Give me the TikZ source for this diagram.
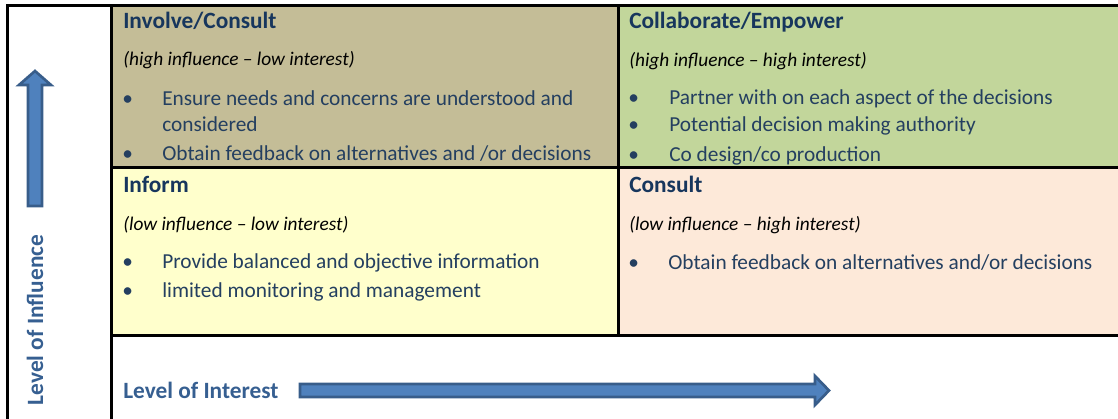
\documentclass[tikz,border=0pt]{standalone}
\usepackage{fontspec}
\setmainfont{Carlito}
\definecolor{tanc}{HTML}{C4BD97}
\definecolor{greenc}{HTML}{C2D69B}
\definecolor{yellowc}{HTML}{FFFFCC}
\definecolor{peachc}{HTML}{FDE9D9}
\definecolor{headc}{HTML}{17365D}
\definecolor{bodyc}{HTML}{243F60}
\definecolor{levelc}{HTML}{365F91}
\definecolor{arrowfill}{HTML}{4F81BD}
\definecolor{arrowline}{HTML}{385D8A}
\tikzset{
  grid/.style={line width=2.25pt, black, line cap=rect},
  head/.style={anchor=base west, inner sep=0pt, text=headc, font=\fontsize{17.5}{21}\selectfont\bfseries},
  sub/.style={anchor=base west, inner sep=0pt, text=black, font=\fontsize{14.5}{17}\selectfont\itshape},
  body/.style={anchor=base west, inner sep=0pt, text=bodyc, font=\fontsize{16}{19}\selectfont},
  bul/.style={anchor=base west, inner sep=0pt, text=bodyc, font=\fontsize{16}{19}\selectfont},
  lvl/.style={inner sep=0pt, text=levelc, font=\fontsize{17.5}{21}\selectfont\bfseries},
  blockarrow/.style={fill=arrowfill, draw=arrowline, line width=2pt, line join=miter}
}
\begin{document}
\begin{tikzpicture}[x=0.75pt, y=-0.75pt]
\useasboundingbox (0,0) rectangle (1118,418);
% cell fills
\fill[tanc] (111,5) rectangle (618,167);
\fill[greenc] (618,5) rectangle (1118,167);
\fill[yellowc] (111,167) rectangle (618,335);
\fill[peachc] (618,167) rectangle (1118,335);
% grid lines
\draw[grid] (7,5) -- (1118,5);
\draw[grid] (7,5) -- (7,420);
\draw[grid] (111,5) -- (111,420);
\draw[grid] (111,167) -- (1120,167);
\draw[grid] (111,335) -- (1120,335);
\draw[grid] (618,5) -- (618,335);
% top-left
\node[head] (tlh) at (123,28) {Involve/Consult};
\node[sub] (tls) at (123,65) {(high influence – low interest)};
\node[bul] (tlb1) at (122,105) {•};
\node[body] (tlt1) at (162,105) {Ensure needs and concerns are understood and};
\node[body] (tlt1b) at (162,131) {considered};
\node[bul] (tlb2) at (122,160) {•};
\node[body] (tlt2) at (162,160) {Obtain feedback on alternatives and /or decisions};
% top-right
\node[head] (trh) at (629,28) {Collaborate/Empower};
\node[sub] (trs) at (629,66) {(high influence – high interest)};
\node[bul] (trb1) at (628,104) {•};
\node[body] (trt1) at (669,104) {Partner with on each aspect of the decisions};
\node[bul] (trb2) at (628,131) {•};
\node[body] (trt2) at (669,131) {Potential decision making authority};
\node[bul] (trb3) at (628,161) {•};
\node[body] (trt3) at (669,161) {Co design/co production};
% bottom-left
\node[head] (blh) at (123,192) {Inform};
\node[sub] (bls) at (123,230) {(low influence – low interest)};
\node[bul] (blb1) at (122,268) {•};
\node[body] (blt1) at (162,268) {Provide balanced and objective information};
\node[bul] (blb2) at (122,297) {•};
\node[body] (blt2) at (162,297) {limited monitoring and management};
% bottom-right
\node[head] (brh) at (629,192) {Consult};
\node[sub] (brs) at (629,230) {(low influence – high interest)};
\node[bul] (brb1) at (628,269) {•};
\node[body] (brt1) at (668,269) {Obtain feedback on alternatives and/or decisions};
% axis labels
\node[lvl, anchor=base west] (interest) at (123,398) {Level of Interest};
\node[lvl, rotate=90, anchor=base] (influence) at (43,320) {Level of Influence};
% block arrows
\draw[blockarrow] (300,384) -- (815,384) -- (815,376) -- (829,390.5) -- (815,405) -- (815,397) -- (300,397) -- cycle;
\draw[blockarrow] (28,206) -- (28,85) -- (19,85) -- (35,71) -- (51,85) -- (42,85) -- (42,206) -- cycle;
\end{tikzpicture}
\end{document}
